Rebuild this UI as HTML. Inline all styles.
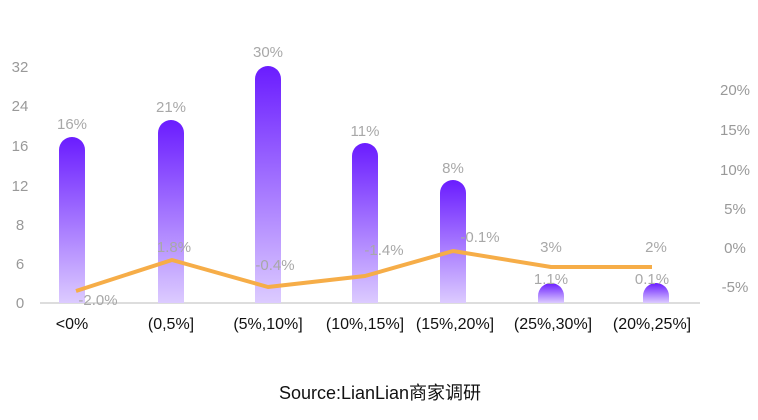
<!DOCTYPE html><html><head><style>body{margin:0;background:#fff}</style></head><body>
<svg width="758" height="415" xmlns="http://www.w3.org/2000/svg" font-family="Liberation Sans, Noto Sans CJK SC, sans-serif">
<defs><linearGradient id="g" x1="0" y1="0" x2="0" y2="1"><stop offset="0" stop-color="#6a1cff"/><stop offset="1" stop-color="#dccbff"/></linearGradient></defs>
<g fill="#999" font-size="15" text-anchor="middle">
<text x="20" y="72">32</text><text x="20" y="111">24</text><text x="20" y="151">16</text><text x="20" y="191">12</text><text x="20" y="230">8</text><text x="20" y="269">6</text><text x="20" y="308">0</text>
<text x="735" y="95">20%</text><text x="735" y="135">15%</text><text x="735" y="175">10%</text><text x="735" y="214">5%</text><text x="735" y="253">0%</text><text x="735" y="292">-5%</text>
</g>
<line x1="40" y1="303" x2="700" y2="303" stroke="#bbb" stroke-width="1"/>
<g fill="url(#g)">
<path d="M59,303V150a13,13 0 0 1 26,0V303z"/>
<path d="M158,303V133a13,13 0 0 1 26,0V303z"/>
<path d="M255,303V79a13,13 0 0 1 26,0V303z"/>
<path d="M352,303V156a13,13 0 0 1 26,0V303z"/>
<path d="M440,303V193a13,13 0 0 1 26,0V303z"/>
<path d="M538,303V296a13,13 0 0 1 26,0V303z"/>
<path d="M643,303V296a13,13 0 0 1 26,0V303z"/>
</g>
<polyline points="76,291 172,260 268,287 365,276 453,251 551,267 652,267" fill="none" stroke="#f6ad48" stroke-width="4" stroke-linejoin="round"/>
<g fill="#a8a8a8" font-size="15" text-anchor="middle">
<text x="72" y="129">16%</text><text x="171" y="112">21%</text><text x="268" y="57">30%</text><text x="365" y="136">11%</text><text x="453" y="173">8%</text><text x="551" y="252">3%</text><text x="656" y="252">2%</text>
<text x="98" y="305">-2.0%</text><text x="174" y="252">1.8%</text><text x="275" y="270">-0.4%</text><text x="384" y="255">-1.4%</text><text x="480" y="242">-0.1%</text><text x="551" y="284">1.1%</text><text x="652" y="284">0.1%</text>
</g>
<g fill="#111" font-size="16" text-anchor="middle">
<text x="72" y="329">&lt;0%</text><text x="171" y="329">(0,5%]</text><text x="268" y="329">(5%,10%]</text><text x="365" y="329">(10%,15%]</text><text x="455" y="329">(15%,20%]</text><text x="553" y="329">(25%,30%]</text><text x="652" y="329">(20%,25%]</text>
</g>
<text x="380" y="399" font-size="18" fill="#111" text-anchor="middle">Source:LianLian商家调研</text>
</svg></body></html>
